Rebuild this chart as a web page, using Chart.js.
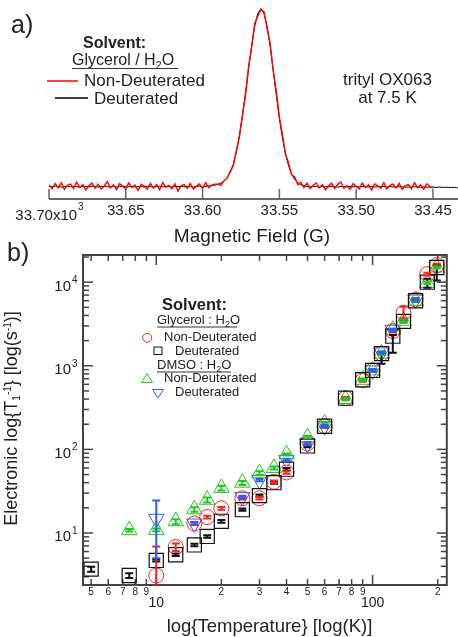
<!DOCTYPE html>
<html>
<head>
<meta charset="utf-8">
<script src="https://cdn.jsdelivr.net/npm/chart.js@4.4.1/dist/chart.umd.min.js"></script>
<style>
  html, body { margin: 0; padding: 0; background: #fff; }
  #wrap { position: relative; width: 458px; height: 637px; overflow: hidden; }
  canvas { position: absolute; left: 0; }
  #specCanvas { top: 0; }
  #t1Canvas { top: 230px; }
  svg { position: absolute; left: 0; top: 0; pointer-events: none; }
  svg text { font-family: "Liberation Sans", Arial, sans-serif; fill: #222; }
</style>
</head>
<body>
<div id="wrap">
  <canvas id="specCanvas" width="458" height="230"></canvas>
  <canvas id="t1Canvas" width="458" height="407"></canvas>
  <svg width="458" height="637" viewBox="0 0 458 637">
    <!-- panel a -->
    <text x="11" y="33" font-size="25">a)</text>
    <text x="83" y="48" font-size="16" font-weight="bold">Solvent:</text>
    <text x="72" y="65" font-size="16">Glycerol / H<tspan font-size="11" dy="4">2</tspan><tspan dy="-4">O</tspan></text>
    <line x1="72" y1="68.5" x2="178" y2="68.5" stroke="#333" stroke-width="1"/>
    <line x1="47" y1="81" x2="78" y2="81" stroke="#ff0000" stroke-width="1.5"/>
    <text x="84" y="86" font-size="17">Non-Deuterated</text>
    <line x1="55" y1="98" x2="88" y2="98" stroke="#000" stroke-width="1.5"/>
    <text x="94" y="103.5" font-size="17">Deuterated</text>
    <text x="387.5" y="85" font-size="17" text-anchor="middle">trityl OX063</text>
    <text x="387.5" y="103" font-size="17" text-anchor="middle">at 7.5 K</text>
    <text x="252" y="241.5" font-size="19" text-anchor="middle">Magnetic Field (G)</text>

    <!-- panel b -->
    <text x="7" y="261" font-size="25">b)</text>
    <text x="162" y="310" font-size="16.5" font-weight="bold">Solvent:</text>
    <text x="157" y="324" font-size="13">Glycerol : H<tspan font-size="9" dy="3">2</tspan><tspan dy="-3">O</tspan></text>
    <line x1="157" y1="327" x2="237" y2="327" stroke="#333" stroke-width="1"/>
    <circle cx="147.2" cy="337.8" r="4.5" fill="none" stroke="#ff2020"/>
    <text x="164" y="341" font-size="13">Non-Deuterated</text>
    <rect x="154" y="347" width="8" height="7.5" fill="none" stroke="#111"/>
    <text x="175" y="355" font-size="13">Deuterated</text>
    <text x="157" y="369" font-size="13">DMSO : H<tspan font-size="9" dy="3">2</tspan><tspan dy="-3">O</tspan></text>
    <line x1="157" y1="372" x2="231" y2="372" stroke="#333" stroke-width="1"/>
    <polygon points="147,373.5 152.5,382.5 141.5,382.5" fill="none" stroke="#1ec81e"/>
    <text x="164" y="382" font-size="13">Non-Deuterated</text>
    <polygon points="152.5,389.5 163.5,389.5 158,398" fill="none" stroke="#2a5cff"/>
    <text x="175" y="396" font-size="13">Deuterated</text>
    <text transform="translate(17,418.5) rotate(-90)" text-anchor="middle" font-size="18">Electronic log{T<tspan font-size="10" dy="3">1</tspan><tspan font-size="10" dy="-9">-1</tspan><tspan dy="6">} [log(s</tspan><tspan font-size="10" dy="-6">-1</tspan><tspan dy="6">)]</tspan></text>
    <text x="269.5" y="631.5" font-size="18.5" text-anchor="middle">log{Temperature} [log(K)]</text>
  </svg>
</div>
<script>
// PANEL A DATA - field sweep (kG) and normalised echo intensity
const field = [
  33.700, 33.698, 33.696, 33.694, 33.692, 33.690, 33.688, 33.686, 33.684, 33.682,
  33.680, 33.678, 33.676, 33.674, 33.672, 33.670, 33.668, 33.666, 33.664, 33.662,
  33.660, 33.658, 33.656, 33.654, 33.652, 33.650, 33.648, 33.646, 33.644, 33.642,
  33.640, 33.638, 33.636, 33.634, 33.632, 33.630, 33.628, 33.626, 33.624, 33.622,
  33.620, 33.618, 33.616, 33.614, 33.612, 33.610, 33.608, 33.606, 33.604, 33.602,
  33.600, 33.598, 33.596, 33.594, 33.592, 33.590, 33.588, 33.586, 33.584, 33.582,
  33.580, 33.578, 33.576, 33.574, 33.572, 33.570, 33.568, 33.566, 33.564, 33.562,
  33.560, 33.558, 33.556, 33.554, 33.552, 33.550, 33.548, 33.546, 33.544, 33.542,
  33.540, 33.538, 33.536, 33.534, 33.532, 33.530, 33.528, 33.526, 33.524, 33.522,
  33.520, 33.518, 33.516, 33.514, 33.512, 33.510, 33.508, 33.506, 33.504, 33.502,
  33.500, 33.498, 33.496, 33.494, 33.492, 33.490, 33.488, 33.486, 33.484, 33.482,
  33.480, 33.478, 33.476, 33.474, 33.472, 33.470, 33.468, 33.466, 33.464, 33.462,
  33.460, 33.458, 33.456, 33.454, 33.452, 33.450, 33.448, 33.446, 33.444, 33.442,
  33.440, 33.438, 33.436, 33.434
];
const nonDeutSpec = [
  0.010, -0.012, 0.018, -0.006, 0.022, -0.015, 0.008, 0.015, -0.010, 0.025,
  -0.004, 0.012, -0.018, 0.006, 0.020, -0.009, 0.014, -0.013, 0.004, 0.028,
  -0.007, 0.010, -0.016, 0.017, 0.002, -0.011, 0.021, -0.005, 0.009, -0.020,
  0.013, 0.003, -0.014, 0.019, -0.008, 0.011, -0.017, 0.024, -0.003, 0.007,
  -0.012, 0.016, -0.025, 0.005, 0.012, -0.009, 0.018, -0.014, 0.003, 0.015,
  -0.010, 0.022, -0.006, 0.009, 0.014, 0.014, 0.007, 0.034, 0.049, 0.086,
  0.118, 0.202, 0.282, 0.405, 0.514, 0.674, 0.783, 0.917, 0.955, 0.995,
  0.980, 0.887, 0.803, 0.650, 0.534, 0.387, 0.292, 0.182, 0.131, 0.066,
  0.054, 0.012, 0.025, -0.004, 0.019, -0.011, 0.008, 0.021, -0.006, 0.012,
  -0.017, 0.004, 0.019, -0.010, 0.013, 0.026, -0.008, 0.006, -0.014, 0.017,
  0.002, -0.012, 0.020, -0.004, 0.011, -0.019, 0.015, 0.005, -0.009, 0.022,
  -0.013, 0.008, 0.014, -0.007, 0.018, -0.016, 0.006, 0.012, -0.011, 0.023,
  -0.005, 0.009, -0.014, 0.016, 0.001, -0.008, null, null, null, null,
  null, null, null, null
];
const deutSpec = [
  0.002, -0.001, 0.003, 0.000, -0.002, 0.001, 0.003, -0.001, 0.002, 0.000,
  -0.003, 0.002, 0.001, -0.001, 0.003, 0.000, -0.002, 0.002, 0.001, -0.001,
  0.000, 0.002, -0.002, 0.001, 0.003, -0.001, 0.000, 0.002, -0.002, 0.001,
  0.000, -0.001, 0.002, 0.001, -0.002, 0.000, 0.003, -0.001, 0.001, 0.000,
  -0.002, 0.002, 0.000, 0.001, -0.001, 0.002, 0.000, -0.002, 0.001, 0.003,
  0.000, 0.002, 0.004, 0.006, 0.009, 0.013, 0.020, 0.031, 0.050, 0.080,
  0.125, 0.196, 0.287, 0.400, 0.530, 0.666, 0.795, 0.902, 0.973, 0.997,
  0.972, 0.898, 0.786, 0.650, 0.513, 0.384, 0.273, 0.184, 0.117, 0.071,
  0.041, 0.022, 0.011, 0.005, 0.002, -0.001, 0.002, 0.000, -0.002, 0.001,
  0.000, -0.001, 0.002, 0.000, -0.002, 0.001, -0.001, 0.000, 0.002, -0.001,
  0.000, -0.002, 0.001, 0.000, -0.001, 0.001, -0.002, 0.000, -0.001, 0.001,
  -0.002, 0.000, -0.001, -0.002, 0.000, -0.001, -0.003, -0.001, -0.002, 0.000,
  -0.002, -0.003, -0.001, -0.002, -0.003, -0.002, -0.004, -0.002, -0.003, -0.004,
  -0.003, -0.005, -0.004, -0.006
];
const fieldTicks = [33.70, 33.65, 33.60, 33.55, 33.50, 33.45];
const fieldTickLabels = ['33.70', '33.65', '33.60', '33.55', '33.50', '33.45'];

// PANEL B DATA - temperature (K) and relaxation rate (1/s)
const glyNonT  = [10, 12.3, 15, 17.2, 20, 25, 30, 35, 40, 50, 60, 75, 90, 100, 110, 124, 139, 158, 179, 198];
const glyNonR  = [3.1, 6.8, 13, 15.5, 19.7, 26, 26, 41, 53, 118, 190, 410, 670, 880, 1400, 2600, 4300, 6200, 12500, 16000];
const glyNonLo = [2.2, 6.1, 12.5, 14.9, 19.0, 25.1, 25.1, 39.6, 51.2, 114, 183, 396, 646, 850, 1350, 2510, 3700, 5980, 12000, 15400];
const glyNonHi = [6.9, 7.5, 13.5, 16.1, 20.4, 26.9, 26.9, 42.4, 54.8, 122, 197, 424, 694, 910, 1450, 2690, 5100, 6420, 13000, 16600];

const glyDeutT  = [5, 7.5, 10, 12.3, 15, 17.2, 20, 25, 30, 35, 40, 50, 60, 75, 90, 100, 110, 124, 139, 158, 179, 198];
const glyDeutR  = [3.7, 3.1, 4.7, 5.5, 7.2, 9.1, 13.8, 19, 28, 40, 58, 110, 189, 410, 680, 880, 1400, 2260, 3400, 6000, 10000, 15000];
const glyDeutLo = [3.45, 2.9, 4.55, 5.3, 6.95, 8.8, 13.3, 18.4, 27.1, 38.7, 56.1, 106, 183, 397, 658, 852, 1060, 1430, 3290, 5810, 8600, 10500];
const glyDeutHi = [3.95, 3.3, 4.85, 5.7, 7.45, 9.4, 14.3, 19.6, 28.9, 41.3, 59.9, 114, 195, 423, 702, 908, 1450, 2330, 3510, 6190, 11000, 16000];

const dmsoNonT  = [7.5, 10, 12.3, 15, 17.2, 20, 25, 30, 35, 40, 50, 60, 75, 90, 100, 110, 124, 139, 158, 179, 198];
const dmsoNonR  = [10.8, 10.9, 13.8, 19.2, 25, 34.6, 40, 52, 60, 87, 140, 205, 400, 680, 880, 1400, 2700, 3450, 6000, 9800, 15000];
const dmsoNonLo = [10.4, 10.5, 12.7, 17.9, 23.2, 32.2, 37.6, 49.4, 57.6, 84.4, 135.8, 199, 388, 660, 854, 1358, 2619, 3347, 5820, 9506, 14550];
const dmsoNonHi = [11.2, 11.3, 14.6, 20.3, 26.5, 36.7, 42.0, 54.6, 62.4, 89.6, 144.2, 211, 412, 700, 906, 1442, 2781, 3553, 6180, 10094, 15450];

const dmsoDeutT  = [10, 15, 25, 30, 40, 50, 60, 100, 110, 124, 158];
const dmsoDeutR  = [14.8, 13, 27, 43, 75, 117, 190, 880, 1450, 2700, 6200];
const dmsoDeutLo = [5.0, 12.6, 26.2, 41.7, 72.8, 113, 184, 854, 1406, 2619, 6014];
const dmsoDeutHi = [24.5, 13.4, 27.8, 44.3, 77.3, 121, 196, 906, 1494, 2781, 6386];

// tick labels for panel b
const tempMinorVals = [5, 6, 7, 8, 9, 20, 30, 40, 50, 60, 70, 80, 90, 200];
const tempMinorText = ['5', '6', '7', '8', '9', '2', '3', '4', '5', '6', '7', '8', '9', '2'];
const tempMajorVals = [10, 100];
const tempMajorText = ['10', '100'];
const rateTickVals = [10, 100, 1000, 10000];
const rateTickExp = ['1', '2', '3', '4'];

const FONT = '"Liberation Sans", Arial, sans-serif';

// SPECTRUM AXIS (ticks point up into the plot)
const specAxis = {
    id: 'specAxis',
    beforeDatasetsDraw(chart) {
        const { ctx, chartArea, scales } = chart;
        const xs = scales.x;
        const yb = chartArea.bottom;
        ctx.save();
        ctx.strokeStyle = '#666';
        ctx.lineWidth = 2;
        ctx.beginPath();
        ctx.moveTo(chartArea.left, yb);
        ctx.lineTo(chartArea.right, yb);
        ctx.stroke();
        ctx.lineWidth = 1.5;
        fieldTicks.forEach(v => {
            const px = xs.getPixelForValue(v);
            ctx.beginPath();
            ctx.moveTo(px, yb);
            ctx.lineTo(px, yb - 10);
            ctx.stroke();
        });
        ctx.restore();
    },
    afterDraw(chart) {
        const { ctx, chartArea, scales } = chart;
        const xs = scales.x;
        const yb = chartArea.bottom;
        ctx.save();
        ctx.fillStyle = '#222';
        ctx.textBaseline = 'alphabetic';
        fieldTicks.forEach((v, i) => {
            const px = xs.getPixelForValue(v);
            if (i === 0) {
                const main = fieldTickLabels[0] + 'x10';
                ctx.font = '15px ' + FONT;
                const wMain = ctx.measureText(main).width;
                ctx.font = '10px ' + FONT;
                const wSup = ctx.measureText('3').width;
                const start = px - (wMain + wSup) / 2;
                ctx.textAlign = 'left';
                ctx.font = '15px ' + FONT;
                ctx.fillText(main, start, yb + 21);
                ctx.font = '10px ' + FONT;
                ctx.fillText('3', start + wMain + 1, yb + 11);
            } else {
                ctx.font = '15px ' + FONT;
                ctx.textAlign = 'center';
                ctx.fillText(fieldTickLabels[i], px, yb + 16);
            }
        });
        ctx.restore();
    }
};

// LOG-LOG BOX WITH INWARD TICKS
const t1Axes = {
    id: 't1Axes',
    beforeDatasetsDraw(chart) {
        const { ctx, chartArea: a, scales: { x, y } } = chart;
        ctx.save();
        ctx.strokeStyle = '#444';
        ctx.lineWidth = 2;
        ctx.strokeRect(a.left, a.top, a.right - a.left, a.bottom - a.top);
        ctx.lineWidth = 1.5;
        const seg = (x1, y1, x2, y2) => {
            ctx.beginPath();
            ctx.moveTo(x1, y1);
            ctx.lineTo(x2, y2);
            ctx.stroke();
        };
        for (let d = 1; d <= 100; d *= 10) {
            for (let m = 1; m <= 9; m++) {
                const v = m * d;
                if (v < x.min || v > x.max) continue;
                const len = m === 1 ? 10 : 6;
                const px = x.getPixelForValue(v);
                seg(px, a.bottom, px, a.bottom - len);
                seg(px, a.top, px, a.top + len);
            }
        }
        for (let d = 1; d <= 10000; d *= 10) {
            for (let m = 1; m <= 9; m++) {
                const v = m * d;
                if (v < y.min || v > y.max) continue;
                const len = m === 1 ? 10 : 6;
                const py = y.getPixelForValue(v);
                seg(a.left, py, a.left + len, py);
                seg(a.right, py, a.right - len, py);
            }
        }
        ctx.restore();
    },
    afterDraw(chart) {
        const { ctx, chartArea: a, scales: { x, y } } = chart;
        ctx.save();
        ctx.fillStyle = '#222';
        ctx.textBaseline = 'alphabetic';
        rateTickVals.forEach((v, i) => {
            const py = y.getPixelForValue(v);
            ctx.font = '15px ' + FONT;
            ctx.textAlign = 'right';
            ctx.fillText('10', a.left - 12, py + 8.5);
            ctx.font = '10px ' + FONT;
            ctx.textAlign = 'left';
            ctx.fillText(rateTickExp[i], a.left - 11, py + 1);
        });
        ctx.textAlign = 'center';
        ctx.font = '10px ' + FONT;
        tempMinorVals.forEach((v, i) => {
            ctx.fillText(tempMinorText[i], x.getPixelForValue(v), a.bottom + 10);
        });
        ctx.font = '14px ' + FONT;
        tempMajorVals.forEach((v, i) => {
            ctx.fillText(tempMajorText[i], x.getPixelForValue(v), a.bottom + 22);
        });
        ctx.restore();
    }
};

// ERROR BARS
const errorBars = {
    id: 'errorBars',
    afterDatasetsDraw(chart) {
        const { ctx, chartArea: a, scales: { x, y } } = chart;
        ctx.save();
        ctx.beginPath();
        ctx.rect(a.left, a.top, a.right - a.left, a.bottom - a.top);
        ctx.clip();
        ctx.lineWidth = 2;
        chart.data.datasets.forEach(ds => {
            if (!ds.errLo) return;
            ctx.strokeStyle = ds.borderColor;
            ds.data.forEach((p, i) => {
                const px = x.getPixelForValue(p.x);
                const lo = y.getPixelForValue(ds.errLo[i]);
                const hi = y.getPixelForValue(ds.errHi[i]);
                ctx.beginPath();
                ctx.moveTo(px, lo);
                ctx.lineTo(px, hi);
                ctx.moveTo(px - 4, lo);
                ctx.lineTo(px + 4, lo);
                ctx.moveTo(px - 4, hi);
                ctx.lineTo(px + 4, hi);
                ctx.stroke();
            });
        });
        ctx.restore();
    }
};

const pairs = (xs, ys) => xs.map((v, i) => ({ x: v, y: ys[i] }));

// PANEL A CHART
new Chart(document.getElementById('specCanvas'), {
    type: 'line',
    data: {
        datasets: [
            { label: 'Non-Deuterated', data: pairs(field, nonDeutSpec), borderColor: '#ff0000', borderWidth: 1.4, pointRadius: 0, tension: 0 },
            { label: 'Deuterated', data: pairs(field, deutSpec), borderColor: '#000000', borderWidth: 1, pointRadius: 0, tension: 0 }
        ]
    },
    options: {
        responsive: false,
        animation: false,
        layout: { padding: { left: 49, right: 0, top: 0, bottom: 31 } },
        scales: {
            x: { type: 'linear', reverse: true, min: 33.4337, max: 33.70, display: false },
            y: { min: -0.069, max: 1.0465, display: false }
        },
        plugins: { legend: { display: false }, tooltip: { enabled: false } }
    },
    plugins: [specAxis]
});

// PANEL B CHART
new Chart(document.getElementById('t1Canvas'), {
    type: 'scatter',
    data: {
        datasets: [
            { label: 'Glycerol Deuterated', data: pairs(glyDeutT, glyDeutR), errLo: glyDeutLo, errHi: glyDeutHi,
              pointStyle: 'rect', pointRadius: 10, borderColor: '#111111', backgroundColor: 'rgba(0,0,0,0)', borderWidth: 1.2 },
            { label: 'Glycerol Non-Deuterated', data: pairs(glyNonT, glyNonR), errLo: glyNonLo, errHi: glyNonHi,
              pointStyle: 'circle', pointRadius: 7.5, borderColor: '#ff2020', backgroundColor: 'rgba(0,0,0,0)', borderWidth: 1 },
            { label: 'DMSO Non-Deuterated', data: pairs(dmsoNonT, dmsoNonR), errLo: dmsoNonLo, errHi: dmsoNonHi,
              pointStyle: 'triangle', pointRadius: 9, borderColor: '#1ec81e', backgroundColor: 'rgba(0,0,0,0)', borderWidth: 1 },
            { label: 'DMSO Deuterated', data: pairs(dmsoDeutT, dmsoDeutR), errLo: dmsoDeutLo, errHi: dmsoDeutHi,
              pointStyle: 'triangle', rotation: 180, pointRadius: 9, borderColor: '#2a5cff', backgroundColor: 'rgba(0,0,0,0)', borderWidth: 1 }
        ]
    },
    options: {
        responsive: false,
        animation: false,
        layout: { padding: { left: 83, right: 1, top: 25, bottom: 52 } },
        scales: {
            x: { type: 'logarithmic', min: 4.585, max: 220.3, display: false },
            y: { type: 'logarithmic', min: 2.388, max: 21140, display: false }
        },
        plugins: { legend: { display: false }, tooltip: { enabled: false } }
    },
    plugins: [t1Axes, errorBars]
});
</script>
</body>
</html>
